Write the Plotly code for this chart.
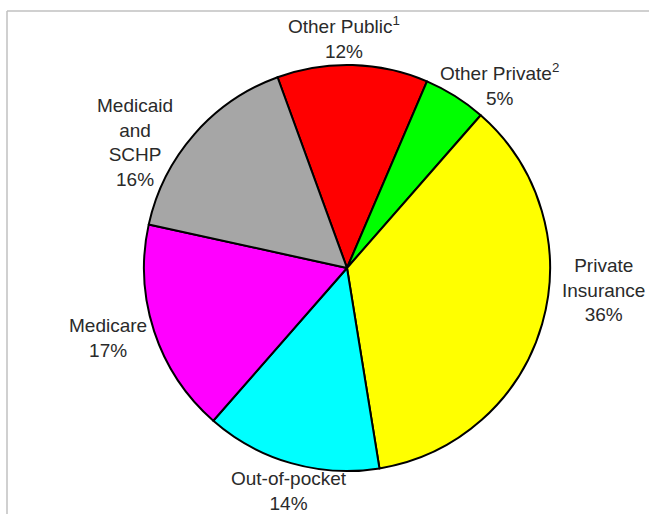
import plotly.graph_objects as go

labels = ["Other Public<sup>1</sup>", "Other Private<sup>2</sup>", "Private<br>Insurance",
          "Out-of-pocket", "Medicare", "Medicaid<br>and<br>SCHP"]
values = [12, 5, 36, 14, 17, 16]
colors = ["#FF0000", "#00FF00", "#FFFF00", "#00FFFF", "#FF00FF", "#A6A6A6"]

# label block centres (pixels in the 649x514 canvas)
label_px = [(344, 38), (499, 85), (603, 290), (289, 491), (108, 338), (135, 142)]

W, H = 649, 514

fig = go.Figure(go.Pie(
    labels=labels,
    values=values,
    sort=False,
    direction="clockwise",
    rotation=-20,
    marker=dict(colors=colors, line=dict(color="#000000", width=2)),
    textinfo="none",
    showlegend=False,
    domain=dict(x=[144 / W, 550 / W], y=[1 - 471 / H, 1 - 65 / H]),
    hoverinfo="label+value",
))

annotations = []
for lab, val, (px, py) in zip(labels, values, label_px):
    annotations.append(dict(
        text=f"{lab}<br>{val}%",
        x=px / W, y=1 - py / H, xref="paper", yref="paper",
        xanchor="center", yanchor="middle", showarrow=False, align="center",
        font=dict(family="Liberation Sans, Arial, sans-serif", size=19, color="#2a2a2a"),
    ))

fig.update_layout(
    width=W, height=H,
    margin=dict(l=0, r=0, t=0, b=0),
    paper_bgcolor="white",
    plot_bgcolor="white",
    annotations=annotations,
    shapes=[
        dict(type="line", xref="paper", yref="paper", x0=7 / W, x1=1, y0=1 - 11 / H, y1=1 - 11 / H,
             line=dict(color="#C0C0C0", width=1.5)),
        dict(type="line", xref="paper", yref="paper", x0=7 / W, x1=7 / W, y0=0, y1=1 - 11 / H,
             line=dict(color="#C0C0C0", width=1.5)),
    ],
)

fig.write_html("out.html", config={"displayModeBar": False},
               post_script="document.body.style.margin='0';document.body.style.padding='0';")
